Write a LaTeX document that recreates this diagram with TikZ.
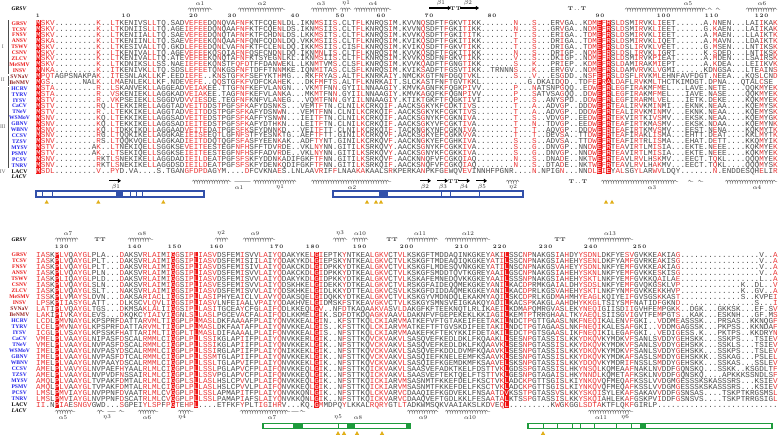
\documentclass[tikz,border=0pt]{standalone}
\usepackage{fontspec}
\usetikzlibrary{decorations.pathmorphing,arrows.meta}
\newfontfamily\seqfont{Liberation Mono}
\newfontfamily\nmfont{Liberation Serif}
\definecolor{hred}{RGB}{240,20,20}
\definecolor{sred}{RGB}{236,55,55}
\definecolor{sgray}{RGB}{75,75,75}
\definecolor{gI}{RGB}{235,25,25}
\definecolor{gII}{RGB}{150,35,35}
\definecolor{gIII}{RGB}{35,35,235}
\definecolor{boxblue}{RGB}{50,80,170}
\definecolor{boxgreen}{RGB}{30,155,60}
\definecolor{gold}{RGB}{225,175,25}
\newdimen\cw \cw=4.635pt
\newdimen\rh \rh=5.92pt
\def\sqcn#1{\makebox[\cw][c]{\color{sgray}#1}}
\def\sqcr#1{\if.#1\sqcn{#1}\else\makebox[\cw][c]{\color{sred}#1}\fi}
\def\sqch#1{\rlap{\color{hred}\rule[-0.85pt]{\cw}{\rh}}\makebox[\cw][c]{\color{white}#1}}
\def\sqchar#1#2{\csname sqc#2\endcsname{#1}}
\def\seqloop#1#2\sqend#3#4\sqend{\ifx!#1\expandafter\sqstop\else\expandafter\sqgo\fi{#1}{#3}{#2}{#4}}
\def\sqgo#1#2#3#4{\sqchar{#1}{#2}\seqloop#3\sqend#4\sqend}
\def\sqstop#1#2#3#4{}
\def\seqrowX#1#2{\seqloop#2!\sqend#1!\sqend}
\newcommand\seqrow[2]{\smash{\seqfont\fontsize{7.6}{7.6}\selectfont\expandafter\seqrowX\expandafter{#2}{#1}}}
\def\clsA{h rrr nnnnnnnnn r nn rr nnnnnn rr nnnnnn rrr
 rr nn r nnn rrr nnnnnn r nnnnnnn rr nn r nnnn rr nnnnn
 r nnnnnn r nnnn r nnn rr nn nnnnnnn r nnn r nnn nnrn
 nnnn rr h r h n rr nn rr nn rr nnn nnnnnn nn r nnn nnn nnn r nn r
 nnnnnnnnnnnnnnnnnnnn}
\def\clsB{rrrnhrrnrrrrnnnnnnrnnnnrrrrnrhrnrrh rrrrnnnnnrnnnrrnrrnnnnnnr h
 rnnnnrnnnnnrrrrnnrr nnnnnnnnn nnnnnnnnn rnr h
 nnn rr nnnnn r n r nn rrrrr nnnnn rr nnnnn r nnn r nnnnnnnnnn nnnnnnnnnn r
 nnnnnnnnnnnnnnnnnnnn}
\tikzset{
 nm/.style={font=\nmfont\bfseries\fontsize{5.6}{5.6}\selectfont, inner sep=0pt},
 hdr/.style={font=\nmfont\bfseries\itshape\fontsize{5.6}{5.6}\selectfont, inner sep=0pt, text=black},
 rom/.style={font=\nmfont\fontsize{5.6}{5.6}\selectfont, inner sep=0pt, text=black!60},
 brk/.style={line width=0.9pt, black!70},
 sq/.style={anchor=base west, inner sep=0pt, outer sep=0pt},
 sslab/.style={font=\fontsize{5.8}{5.8}\selectfont, inner sep=0pt, text=black!85},
 numlab/.style={font=\bfseries\fontsize{5.2}{5.2}\selectfont, inner sep=0pt, anchor=base east, text=black!85},
 ttsty/.style={font=\bfseries\fontsize{5.4}{5.4}\selectfont, inner sep=0pt, text=black!85},
 coilsty/.style={decorate, decoration={coil, aspect=0.55, segment length=2.5pt, amplitude=1.5pt}, line width=0.3pt, draw=black!75},
 betasty/.style={line width=1.1pt, black, -{Triangle[length=3.2pt,width=4.2pt]}},
 bbox/.style={draw=boxblue, line width=1.1pt, fill=white},
 bdiv/.style={draw=boxblue, line width=0.9pt},
 gbox/.style={draw=boxgreen, line width=1.1pt, fill=white},
 gdiv/.style={draw=boxgreen, line width=0.9pt}
}
\newcommand\rowI[4]{%
 \node[nm,text=#3] (na#1) at (19.5,{23.3+5.92*(#1-1)}) {#2};
 \node[sq] (sa#1) at (36.2,{25.45+5.92*(#1-1)}) {\rh=5.92pt\relax\seqrow{#4}{\clsA}};}
\newcommand\rowII[4]{%
 \node[nm,text=#3] (nb#1) at (19.5,{255+6*(#1-1)}) {#2};
 \node[sq] (sb#1) at (36.2,{257.15+6*(#1-1)}) {\rh=6pt\relax\seqrow{#4}{\clsB}};}
\newcommand\helixat[3]{\draw[coilsty] (#1,#3) -- (#2,#3);}
\newcommand\strand[3]{\draw[betasty] (#1,#3) -- (#2,#3);}
\newcommand\sslabel[4]{\node[sslab] (#1) at (#2,#3) {#4};}
\newcommand\nlab[4]{\node[numlab] (#1) at ({#2+1.6},#3) {#4};}
\newcommand\tri[2]{\fill[gold] ({#1-2.1},{#2+1.8}) -- ({#1+2.1},{#2+1.8}) -- (#1,{#2-1.9}) -- cycle;}
\newcommand\gapdots[3]{\foreach \dd in {#1,...,#2} {\fill[black!70] (\dd,#3) circle (0.35);}}
\begin{document}
\begin{tikzpicture}[x=1pt,y=-1pt]
\fill[white] (0,0) rectangle (778,436);
\useasboundingbox (0,0) rectangle (778,436);
% ---------------- block 1 header
\node[hdr] (h1) at (19,8.5) {GRSV};
\helixat{188}{212}{9.3}\sslabel{t1a1}{200}{3.3}{$\alpha$1}
\helixat{238}{285}{9.3}\sslabel{t1a2}{262}{3.3}{$\alpha$2}
\helixat{311}{337}{9.3}\sslabel{t1a3}{321}{3.3}{$\alpha$3}
\helixat{340}{351}{9.3}\sslabel{t1e1}{346}{3.3}{$\eta$1}
\helixat{354}{391}{9.3}\sslabel{t1a4}{373}{3.3}{$\alpha$4}
\strand{429}{451}{8}\sslabel{t1b1}{441}{2.8}{$\beta$1}
\node[ttsty] (t1tt) at (455.5,8.3) {TT};
\strand{460}{479}{8}\sslabel{t1b2}{468}{2.8}{$\beta$2}
\node[ttsty] (t1t2) at (577,8.3) {T\,.\,.\,T};
\helixat{625}{707}{9.3}\sslabel{t1a5}{688}{3.3}{$\alpha$5}
\helixat{708}{712}{9.3}\helixat{716}{720}{9.3}
\helixat{746}{777}{9.3}\sslabel{t1a6}{762}{3.3}{$\alpha$6}
\nlab{k1}{38.5}{17.3}{1}
\nlab{k10}{129}{17.3}{1\,0}
\nlab{k20}{196.5}{17.3}{2\,0}
\nlab{k30}{235}{17.3}{3\,0}
\nlab{k40}{298}{17.3}{4\,0}
\nlab{k50}{343}{17.3}{5\,0}
\nlab{k60}{384}{17.3}{6\,0}
\nlab{k70}{432}{17.3}{7\,0}
\nlab{k80}{495}{17.3}{8\,0}
\nlab{k90}{603}{17.3}{9\,0}
\nlab{k100}{669}{17.3}{1\,0\,0}
\nlab{k110}{717}{17.3}{1\,1\,0}
\nlab{k120}{767}{17.3}{1\,2\,0}
% groups
\draw[brk] (8.5,20.5) -- (8.5,73.5);
\draw[brk] (8.5,75.5) -- (8.5,85.5);
\draw[brk] (8.5,87) -- (8.5,168.3);
\node[rom] (r1) at (2.8,47) {I};
\node[rom] (r2) at (2.8,79.5) {II};
\node[rom] (r3) at (2.8,127) {III};
\node[rom] (r4) at (2.8,171.3) {IV};
% ---------------- block 1 rows
\rowI{1}{GRSV}{gI}{MSKV.........K..LTKENIVSLLTQ.SADVEF EEDQNQVAFNFKTFCQENLDL.IKNMSIIS.CLTFLKNRQS IM.KVVNQSDFTFGKVTIKK.......N...S...ERVG A..KDMEFRSLDSMIRVKLIEET......A.NNEN...LAIIKAK}
\rowI{2}{TCSV}{gI}{MSKV.........K..LTKDNIISLLTQ.AGEIEF EEDQNQAAFNFKTFCQENLDS.IKNMSIIS.CLTFLKNRQS IM.KVVNQSDFTFGKITIKK.......N...S...GRVG A..NDMEFRSLDSMIRVKLIEET......G.KAEN...LAIIKAK}
\rowI{3}{FNSV}{gI}{MSKV.........K..LTKENIIALLTQ.SAEVEF EEDQNQTAFNFKTFCHDNLDS.LKKMSITS.CLTFLKNRQS IM.KVVKQSDFTFGKITITK.......T...S...ERIG A..TDMEFRSLDSMIRVKLIEET......A.MAEN...LLAIKTK}
\rowI{4}{ANSV}{gI}{MSKA.........K..LTKENIINLLTQ.SAEVEF EEKQNQAAFNFQNFCQDNLDQ.VKKMSIIS.CLTFLKNRQS IM.KVIKQSDFTFGKITIKK.......T...S...DRIG A..TDMEFRSLDSMIRVKLIQET......A.MAVN...LDAIKTK}
\rowI{5}{TSWV}{gI}{MSKV.........K..LTKESIVALLTQ.GKDLEF EEDQNLVAFNFKTFCLENLDQ.IKKMSIIS.CISFLKNRQS IM.KVIKQSDFTFGKVTIKK.......T...S...DRIG A..TDMEFRSLDSLIRVKLVEET......G.MSEN...LNTIKSK}
\rowI{6}{CSNV}{gI}{MSKV.........K..LTKENIVALLTQ.AGEVEF EEKQSQIAFNFQSFCNDNLDQ.IKNMNLIS.CLTFLKNRQS IM.KVVKQSDFTFGKITIKK.......N...S...DRIG P..NDMEFRSLDSLIRVKLIGRT......K.SDED...LNTIKSK}
\rowI{7}{ZLCV}{gI}{MSKV.........K..LTKENIVALLTQ.ATEVEF EEKQNQTAFNFKTSYEGNLKL.IKNMSIIS.CLTFLKNRQS IM.KVVKQSDFNFGKVTIKK.......V...S...DKIG P..NDMEFRSLDSMIRVKPIEAT......A.MDEN...LSAIRSK}
\rowI{8}{MeSMV}{gI}{MSKV.........K..LTKDNIKSLLSS.NAEIEF EEKQNSTFQFDTFFDANWEKL.LKNMTVMS.CLSFLKNRQS IM.KVVKQADFTFGNGTIKK.......S...K...PRIE P..KDMEFRSLDAMIRAKMIEPT......A.KDEA...LEIIKVK}
\rowI{9}{INSV}{gI}{MNKA.........K..ITKENIVKLLTQ.SDSLEF EETQNKGSFNFTDFFTNNMKE.IQNMITAS.CLSFLKNRQS IM.KVIKSADFTFGSVTIKK..TRNNNS...K...ERVG V..NDMEFRSLDAMVRVKLVGMI......KDNGSA...LTEAINS}
\rowI{10}{SVNaV}{gII}{MPQTAGPSNAKPAK..ITESNLAKLLKF.EEDIEF E..KNSTGFKFSEFYKTHMG...RKFRYAS.ALTFLKNRKA IY.NMCKKGTFNFDGQTVKL.......S...V...ESGD D..NSFEFRSLDSFLRVKMLEHNFAVFDGT.NEEA...KQSLCND}
\rowI{11}{BeNMV}{gII}{MGS.......NALK..LMAENLEKLLKF.NDEVEF E..QQSTGFKFVDFCKAHEK...DKFMFTS.ALTFLKNRKA IT.SLCKASTFNFTGVTKKL..........G.DKAIDQ D..TDFEFRALDAFLRVKMLTHCTKIMDGT.DPNA...QTALCSE}
\rowI{12}{HCRV}{gIII}{MSTA.........R..LSKANVEKLLAGGEADVEI AKEE.TTGFNFKEFVLANGN...VKMTFNN.GYIILNNAAG IY.KMVKAGNFKFQGKPIVV.......P...NATSNPGQ Q..EDWEFRLEGFIRAKMFMEL...LAVE.NETE....QQKMYEK}
\rowI{13}{TYRV}{gIII}{MSTA.........R..VSKENIEKLLAGGKADVEI AKEE.TAGFNFKEFVLANKA...MKMTFNN.GYIILNNAAG IY.KMVKAGQFKFQGNPIVV.......P...SATVSAGQ Q..DDWEFRLEGFIRAKMFMEL...IAVE.NASE....QQKMYEK}
\rowI{14}{IYSV}{gIII}{MSTV.........R..VKPSEIEKLLSGGDVDVVI ESDE.TEGFNFKNFVLANEG...VQMTFNN.GYIILNNAAG IY.KTIKTGKFTFQGKTIVI.......P...S..ANYSP D..DDWEFRLEGFIRARMLVEL...IETK.DEKE....KQKMYEK}
\rowI{15}{CaCV}{gIII}{MSTV.........RQ.LTEKKIRELLAGGTADVEI TDDSTPGFSFKAFYDSNKS...VEMTFTN.CLNILKCRKQI F.AACKSGKYKFCDKTIVS........T...A..ADVGP ..DDDWEFRTEALIRVKMINMI...EKNK.NEAA....KQEMYSK}
\rowI{16}{TNeV}{gIII}{MSTV.........R..LTEKKIKELLAGGTADVEI TDDSTPGFSFKAFYDSNWN...VEMTFNN.CLNILKCRKQI F.AACKSGKYKFCGKTIVS........T...A..ADVGP ..DDDWEFRTEALIRVKMINMV...EKNK.NEAA....KQEMYSK}
\rowI{17}{WSMoV}{gIII}{MSNV.........KQ.LTEKKIKELLAGGSADVEI TEDSTPGFSFKAFFYSNWN...IEITFTN.CLNILKCRKQI F.AACKSGNYKFCGKNIVA........T...S..VDVGP ..EEDWEFRTEKVIRTKIVSMV...EKSK.NEAA....KQEMYGK}
\rowI{18}{GBNV}{gIII}{MSNV.........KQ.LTEKKIKELLAGGSADIEI TEDSTPGFSFKAFYDTHKN...LEITFTN.CLNILKCRKQI F.AACKSGKYVFCGKTIVA........T...N..TDVGP ..EEDWEFRTEAFIRTKMASMV...EKSK.NDAA....KQEMYNK}
\rowI{19}{WBNV}{gIII}{MSNV.........KQ.LTDKKIKDLLAGGAADVEI TEDATPGFSFKSFYDNNKD...VEITFTT.CLNILKCRKQI F.TACKNGKYNFCGKNIVA........T...T..AQVGP ..DDDWEFRTEAFIRTKMVSMV...EEST.NENA....KQKMYTK}
\rowI{20}{CCSV}{gIII}{MSNV.........RG.LTQQKIKELLAGGKAEIEI SEEQTLGFNFSTFYESNKTG..AEFTFTT.GINILKCRKQV F.AACKSGKYEFCGKKVVA........T...T..DEVSA ..TTDWEFRTEAFIRAKLISMA...EHTT.DEAT....KKLMYTK}
\rowI{21}{TZSV}{gIII}{MSNV.........RS.LTQQKVQELLAGGKADIEI TDDQTQGFSFASFYEENKAK..ADFTYNT.GINILKCRKQV F.AACKNGKYEFCGHKIVA........S...S..ADVSA ..TTDWEFRTEAFIRTRLISMA...EHAT.DETT....KKQMYIK}
\rowI{22}{MYSV}{gIII}{MSTV........AK..LTNEKIQELLSGGKSEVEI TEESTEGFNFHSFFTDVRDE..VKLNYNN.GITILKSRKQV Y.AACKSGNYKFCGKKIVA........S...G..DNVGP ..NNDWEFRTEAVIRTLMISIA...EKTE.NEEE....KQKMYEK}
\rowI{23}{PSMV}{gIII}{MSTV........AK..LTSEKIQELLSGGKSEIEI TEESTEGFNFHSFFADVRDE..VKLNYNN.GITILKSRKQV Y.AACKSGNYKFCGKKIVA........S...G..DNVGP ..NNDWEFRTEAVIRTLMISIA...EKTE.NEEE....KQKMYEK}
\rowI{24}{PCSV}{gIII}{MSNV.........RKTLSNEKIKELLAGGDADIEI LDEATPGFSFSKFYDDNKADIFGKFTFNN.GITILKSRKQV F.AACKNNQFVFCGKQIAQ........N...S..DNADE ..NKTWEFRTEAVLRVLHSKMV...EECT.TQKL....QQQMYEK}
\rowI{25}{TNRV}{gIII}{MSNV.........RKTLSNEKIKELLAGGDSDIEI LDEATPGFSFSKFYDENKQDIFGKFTFNN.GITILKSRKQI F.AACKSNQFVFCGKQIAQ........N...S..DTADE ..NKTWEFRTEAVLRVLHAKMV...EECT.TQKL....QQQMYSK}
\rowI{26}{LACV}{black}{MSDL.........V..PYD.VA....S.TGANGFD PDAGYM....DFCVKNAES.LNLAAVRIFFLNAAKAKAALS RKPERKANPKFGEWQVEVINNHFPGNR....N.NPIGN. ..NNDLEIEYALSGYLARWVLDQY.......N.ENDDESQHELIR}
% ---------------- block 1 bottom
\node[hdr] (l1) at (19,177) {LACV};
\strand{109}{121}{180.8}\sslabel{b1b1}{116}{187}{$\beta$1}
\helixat{192}{231}{181.5}\gapdots{235}{250}{181.5}
\helixat{253}{296}{181.5}
\sslabel{b1a1}{239}{187.3}{$\alpha$1}\sslabel{b1e1}{280}{187.3}{$\eta$1}
\helixat{311}{391}{181.5}\sslabel{b1a2}{352}{187.3}{$\alpha$2}
\strand{420}{431}{180.8}\sslabel{b1b2}{425}{187.3}{$\beta$2}
\strand{437}{448}{180.8}\sslabel{b1b3}{443}{187.3}{$\beta$3}
\node[ttsty] (b1tt) at (453.5,181.3) {TT};
\strand{458}{470}{180.8}\sslabel{b1b4}{464}{187.3}{$\beta$4}
\strand{476}{487}{180.8}\sslabel{b1b5}{482}{187.3}{$\beta$5}
\helixat{506}{519}{181.5}\sslabel{b1e2}{513}{187.3}{$\eta$2}
\node[ttsty] (b1t2) at (578,181.3) {T\,.\,.\,T};
\helixat{601}{678}{181.5}\sslabel{b1a3}{652}{187.3}{$\alpha$3}
\helixat{688}{693}{181.5}\helixat{698}{703}{181.5}
\helixat{725}{777}{181.5}\sslabel{b1a4}{757}{187.3}{$\alpha$4}
% blue boxes
\draw[bbox] (36,191) rectangle (204,197);
\fill[boxblue] (116,191) rectangle (123,197);
\foreach \xx in {42,52,130,136,142} {\draw[bdiv] (\xx,191) -- (\xx,197);}
\draw[bbox] (333,191) rectangle (523,197);
\fill[boxblue] (379,191) rectangle (388,197);
\foreach \xx in {441,450,479} {\draw[bdiv] (\xx,191) -- (\xx,197);}
\foreach \xx in {46.7,98.3,163.3,367,376,381,606,612} {\tri{\xx}{201.8}}
% ---------------- block 2 header
\node[hdr] (h2) at (19,240) {GRSV};
\helixat{55}{78}{239.3}\sslabel{t2a7}{68}{233.3}{$\alpha$7}
\node[ttsty] (t2tt1) at (100,240) {TT};
\helixat{128}{153}{239.3}\sslabel{t2a8}{142}{233.3}{$\alpha$8}
\helixat{215}{228}{239.3}\sslabel{t2e2}{221}{233.3}{$\eta$2}
\helixat{243}{275}{239.3}\sslabel{t2a9}{255}{233.3}{$\alpha$9}
\helixat{333}{347}{239.3}\sslabel{t2e3}{340}{233.3}{$\eta$3}
\helixat{352}{368}{239.3}\sslabel{t2a10}{360}{233.3}{$\alpha$10}
\node[ttsty] (t2tt2) at (392,240) {TT};
\helixat{407}{438}{239.3}\sslabel{t2a11}{420}{233.3}{$\alpha$11}
\helixat{445}{490}{239.3}\sslabel{t2a12}{468}{233.3}{$\alpha$12}
\node[ttsty] (t2tt3) at (560,240) {TT};
\helixat{588}{633}{239.3}\sslabel{t2a13}{610}{233.3}{$\alpha$13}
\nlab{m130}{67}{248}{1\,3\,0}
\nlab{m140}{140}{248}{1\,4\,0}
\nlab{m150}{180}{248}{1\,5\,0}
\nlab{m160}{222}{248}{1\,6\,0}
\nlab{m170}{282}{248}{1\,7\,0}
\nlab{m180}{318}{248}{1\,8\,0}
\nlab{m190}{365}{248}{1\,9\,0}
\nlab{m200}{412}{248}{2\,0\,0}
\nlab{m210}{467}{248}{2\,1\,0}
\nlab{m220}{505}{248}{2\,2\,0}
\nlab{m230}{551}{248}{2\,3\,0}
\nlab{m240}{596}{248}{2\,4\,0}
\nlab{m250}{645}{248}{2\,5\,0}
% ---------------- block 2 rows
\rowII{1}{GRSV}{gI}{IASKPLVQAYGLPLA...DAKSVRLAIMIGGSIPL IASVDSFEMISVVLAIYQDAKYKEL G IEPTKYNTKEALGKVCTVLKSKGFTMDDAQINKGKEYAKI L SSCNPNAKGSIAHDYYSDNLDKFYESVGVKKEAKIAG .................V..A}
\rowII{2}{TCSV}{gI}{IASKPLVQAYGLPLT...DAKSVRLAIMIGGSIPL IASVDSFEMISIILAIYQDAKYKDL G IEPSKYNTKEALGKVCTVLKSKGFTMDEAQIQKGKEYATI L SSCNPNAKGSIAHEHYSENLDKFYAMFGVRKEAKISG .................V..A}
\rowII{3}{FNSV}{gI}{IASKPLVQAYGLPLT...DAKSVRLAIMIGGSIPL IASVDSFEMISIVLAIYQDAKCKDL G IDPKKYDTKEALGKVCTVLKSKGFLMDESQVNKGKEYATI L NSCNPNAKGSVAHEYYSDNLNKFYEMFGVKKEAKIAG .................V..A}
\rowII{4}{ANSV}{gI}{IASKPLVQAYGLPLN...DAKSVRLAIMIGGSIPL IASVDSFEMISVVLAIYQDAKCKDL G IDPKKYDTKEALGKVCTVLKSKGFSMDDTQVTKGREYAAI L GSCNPNAKGSIAHEHYSKNLNKFYEMFGVKKESKISG .................V..A}
\rowII{5}{TSWV}{gI}{IASKPLIQAYGLPLD...DAKSVRLAIMIGGSIPL IASVDSFEMISVVLAIYQDAKYKDL G IDPKKYDTKEALGKVCTVLKSKAFEMNEDQVKKGKEYAAI L SSSNPNAKGSIAHEHYSKTLNKFYEMFGVKKQAILAE .................L..A}
\rowII{6}{CSNV}{gI}{IASKPLVQAYGLSLN...DAKSVRLAIMIGGSIPL IASVESFEMISVVLAIYQDSKHKEL G IDEKKYDTKEALGKVCTVLRSKGFAIDEQQMEKGKEYANI L KACDPRMKGAIALDHYSDSLNKFYEMFGVQKGSKLVP .............K..DL..V}
\rowII{7}{ZLCV}{gI}{IASKPLVQAYGLSLT...NAKSVRLAIMIGGSIPL IASVDSFEMISVVLAIYQDSKHKEL G IDLKKYDTTEALGKVCSVLKSKGFDIDDAQMEKGKEYANI L KACDPRLKGSVAHEHYSKTLNKFYNMFGVKKEKKHVP .............K..GV..A}
\rowII{8}{MeSMV}{gI}{ISSKPLVMAYSLDVN...DAKSARIACLIGGSIPL LASIPHYEAICLVLAVYQDAKSQEL G IDQKKYDTKEALGKVCTVLKSKGYVMDNDQLEKAKMYAQI L SKCDPRLKGDMAHMHYEAGLKQIYEIFGVSGSKKAST .............S..KVPEI}
\rowII{9}{INSV}{gI}{LPSKPIIASYGLATT...DLKSCVLQVLIGGSIPL IASVLNFEIAALVPAIYQDAKHVEL G IDMSKFSTKEAVGKVCTVLKSKGYSMNSVEIGKAKQYADI L KACSPKAKGLAAHDHYKKGLTSIYSMFNATIDFGKND ................S...I}
\rowII{10}{SVNaV}{gII}{LATIPLVQAYGLTGS...DKMSAKLALIIGGSIPL LASITGCEAYCFGLAIFQDLKKEQL G V..NFDTKAQAAKVASVLDAKGFKFTEEKNQTLRLIKAEI L KDMAPQMRGVASLEKYNEQIGIISDIIGVHFEMPGKK ..DGK...GKKSK...EF.SV}
\rowII{11}{BeNMV}{gII}{LAKIPIVKAYGLEVS...DKQKCYIAIVIGGNLSL LASLPGCEVACFALAIFQDLKKMEL G IK.SDFDTKDQAGKVAAVLDAKNFVFGEPEKEKLKKIAGI L KEMTPTRRGHAALTKYAEQLSIISGVIGVTFEMPGTS ..KAK...ESKNH...GF.MS}
\rowII{12}{HCRV}{gIII}{LCDLPMVNAYGLKPSPRFDATTARVMLTIGGPLPL MASLDKFAAAAFPLAIYQNVKKEAL G IN..KFSTTKQLCKIARVMATKEFVFTGTAKEIFEETAKI L NDCTPGTTGAASLNKFNEQIKALENVFGKI..VDDME ASSSK...PRSAS..KKNQGF}
\rowII{13}{TYRV}{gIII}{LCELPMVNAYGLKPSPRFDATTARVMLTIGGPLPL MASLDKFAATAFPLAIYQNVKKEAL G IS..KFSTTKQLCKIARVMATKEFTFTGVSKDIFEETAKI L NDCTPGTAGAASLNKFNEQIKALESAFGKI..VDDMG AGSSK...PKPSS..KKNDAF}
\rowII{14}{IYSV}{gIII}{ICGLPLVSAYGLKPSSKFHATTARIMLTIGGPLTL MASLDIFAAAALPLAIFQNVKKEAL G IS..NFSTTKQLCKIARVMAAKEFKFTEKYKKIFDETAKI L EDCTPGTSGAASLIKFNEQIKILEGAFGKI..VEDIG ESS.K...PKTPS..KKDRYN}
\rowII{15}{CaCV}{gIII}{VMELPLVAAYGLNIPASFDSCALRMMLCIGGPLPL LSSIKGLAPIIFPLAIYQNVKKERL G IK..NFSTTKQVCKVAKVLSASQVEFKEDLDKLFKQAAKL L SESNPGTASSISLKKYDKQVKYMDKVFSANLSVDDYG EHSKK...SSKPS...TSIEV}
\rowII{16}{TNeV}{gIII}{VMELPLVAAYGLNVPASFDSCALRMMLCIGGPLPL LSSIKGLAPIIFPLAIYQNVKKEKL G IK..NFSTTKQVCKVAKVLSASQVEFKEDLDKLFKQAAVK L SESNPGTASSISLKKYDKQVKYMDKVFSANLSVDDYG EHSKK...SSKLS...TSIEV}
\rowII{17}{WSMoV}{gIII}{IMELPLVAAYGLNVPASYDSCALRMMLCIGGPLPL LSSIRGLAPIIFPLAIYQNIKKEKL G IK..NFSTTKQVCKVAKVLSASQVEFKDDLDVMFKQAAVK L SESNPGTASSISLKKYDKQVKYMDKVFSANLSVDDYG EHSKK...SSKPS...TSLEV}
\rowII{18}{GBNV}{gIII}{IMELPLVAAYGLNVPASFDTCALRMMLCIGGPLPL LSSMTGLAPIIFPLAIYQNVKKEKL G IK..NFSTTKQVCKVAKVLSASQIEFKNELEEMFKSAAVK L SESNPGTASSISLKKYDKQVKYMDKAFSASLSMDDYG EHSKKK..SSKAG...PSLEL}
\rowII{19}{WBNV}{gIII}{IMELPLVAAYGLNVPAAYDSCALRMMLCIGGPLPL LSSLTGLAPVIFPLAIYQNVKKEKL G IK..NFSTTKQVCKVAKVLSASQIEFKGEMDKMFKSAAVE L SKSNPGTASSISLKKYDDQVKYMDRIFNSSLSMDDYG EHSKK...SSKAS...SSLEV}
\rowII{20}{CCSV}{gIII}{AMELPLVAVYGLNVPAEFHYAALRLMLCIGGPLPL LSSLPGLAPVCFPLAIFQNVKKEQL G IK..NFSTTKQICKVAKVLSAASVEFADKTKELFDSTTVK L GDSSPGTASSISLHKYNSQLKQMEAAFNAKLNVDDFG QNSKQ...SSKK..KSGDLTF}
\rowII{21}{TZSV}{gIII}{AMELPLVAAYGLNVPVDFNSSAIRLMLCIGGPLPL LSSVPGLAPVCFPLAIFQNVKKEQL G IK..NFSTTKQICKVAKVLSAASVEFTEKTQELFTSTTVK L GESNPGTAGAISLHKYNNDLKQMETAFKSKLNVDDFG QNSKQ....APKKKSSNDLSF}
\rowII{22}{MYSV}{gIII}{AMQLPLVAAYGLTVPAKFDMTALRLMLCIGGPLSL LASLHSLCPVVLPLAIFQNVKKEQL G IK..NFSTTKQICKIARVMSASNMTFKKEFDELFKSCTVK L ADCKPGTTSGISLKIYNKQVQFMEQAFKSSLVVDGMG ESSSKSKASSSRS...KSIEV}
\rowII{23}{PSMV}{gIII}{AMQLPLVAAYGLTVPAKFDMTALRLMLCIGGPLPL LASLHSLCPVVLPLAIFQNVKKEQL G IK..NFSTTKQICKIARVMSASNMTFKKEFDELFKSCTVK L ADCKPGTTSGISLKIYNKQVQFMEQAFKSSLVVDGMG ESSSKSKASSSRS...KSIEV}
\rowII{24}{PCSV}{gIII}{LMSLPMVIAYGLNVPPNFDVAATRLMLCVGGPLPL LSSLAPMAPITFPLAIYQNVKKQNL G IK..NFSTTKQLCKVARVCDAAQIEFKGDVEKLFNSAATD V KSSTPGTASSVSLKKYSKQISYLEKAFSAKAVVDDFG SNSAS....TSKPTKRGSMSL}
\rowII{25}{TNRV}{gIII}{LMSLPMVIAYGLNVPPNFDSCATRLMLCVGGPLPL LSSLPAMAPIAFSLAIYQNVKKQNL G IK..NFSTTKQICKVARVCDAAQVEFTGDLKKLFESAATA L KTSSPGTASSISLKKYSKQIAHLEKAFGSKPVIDDFG SNSVS....TSKPTRRGSIGL}
\rowII{26}{LACV}{black}{II.NPIAESNGVGWD...SGPEIYLSPFPGTEHPL ....ETFKFYPLTIGIHRV...KQ. G MMDPQYLKKALRQRYGTLTADKWMSQKVAAIAKSLKDVEQ L .........KWGKGGLSDTAKTFLQKFGIRLP..... .....................}
% ---------------- block 2 bottom
\node[hdr] (l2) at (19,411) {LACV};
\helixat{55}{75}{411.5}\sslabel{b2a5}{63}{417.5}{$\alpha$5}
\helixat{97}{104}{411.5}\gapdots{108}{115}{411.5}\helixat{119}{124}{411.5}
\sslabel{b2e3}{107}{417.5}{$\eta$3}
\helixat{138}{158}{411.5}\sslabel{b2a6}{147}{417.5}{$\alpha$6}
\helixat{178}{193}{411.5}\sslabel{b2e4}{182}{417.5}{$\eta$4}
\helixat{240}{290}{411.5}\gapdots{292}{298}{411.5}\helixat{300}{305}{411.5}
\sslabel{b2a7}{272}{417.5}{$\alpha$7}
\sslabel{b2e5}{338}{417.5}{$\eta$5}
\sslabel{b2a8}{358}{417.5}{$\alpha$8}
\helixat{407}{438}{411.5}\sslabel{b2a9}{423}{417.5}{$\alpha$9}
\helixat{445}{490}{411.5}\sslabel{b2a10}{470}{417.5}{$\alpha$10}
\helixat{588}{633}{411.5}\sslabel{b2a11}{601}{417.5}{$\alpha$11}\sslabel{b2e6}{625}{417.5}{$\eta$6}
% green boxes
\draw[gbox] (263,423.7) rectangle (410,428.7);
\fill[boxgreen] (293,423.7) rectangle (303,428.7);
\fill[boxgreen] (347,423.7) rectangle (355,428.7);
\fill[boxgreen] (406,423.7) rectangle (410,428.7);
\draw[gdiv] (338,423.7) -- (338,428.7);
\draw[gbox] (528,423.7) rectangle (772,428.7);
\fill[boxgreen] (640,423.7) rectangle (646,428.7);
\foreach \xx in {543,557,572,580,594,616,631} {\draw[gdiv] (\xx,423.7) -- (\xx,428.7);}
\foreach \xx in {338,344,357,382,543} {\tri{\xx}{433}}
\end{tikzpicture}
\end{document}
